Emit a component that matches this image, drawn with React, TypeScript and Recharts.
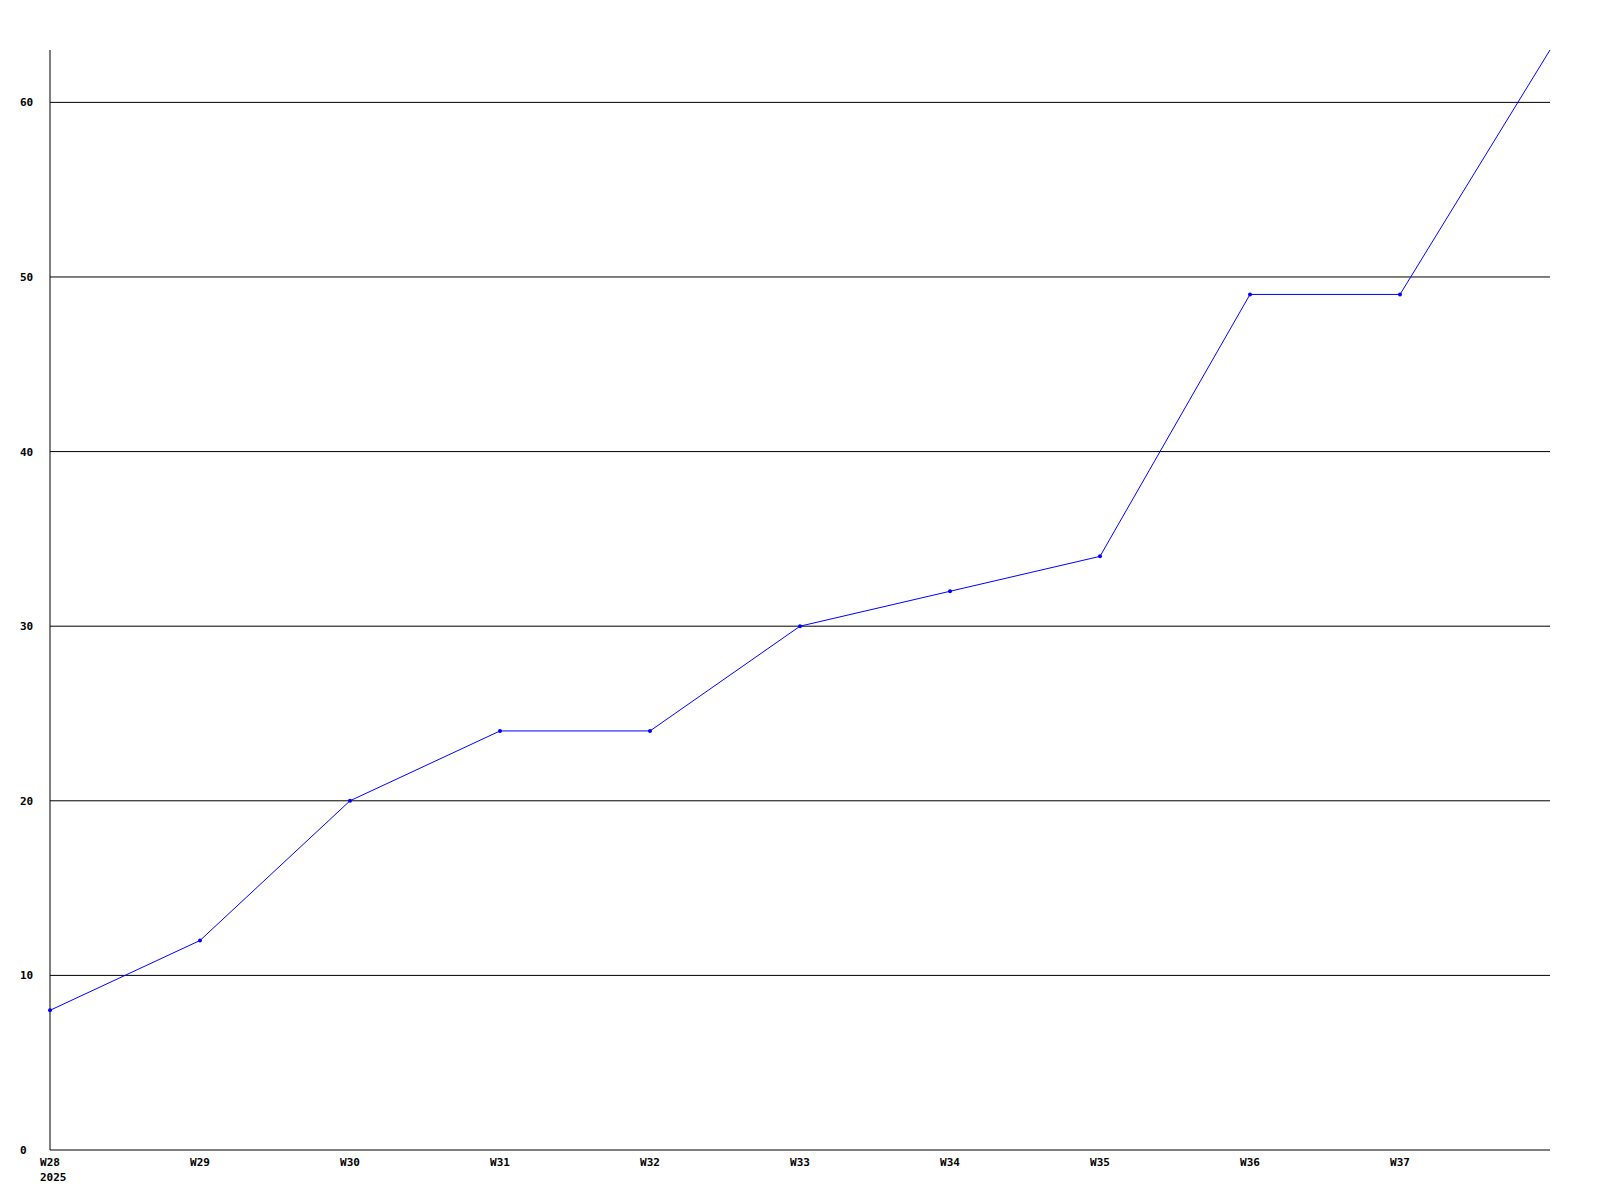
import { LineChart, Line, XAxis, YAxis, ReferenceLine } from 'recharts'

const weeks = ['W28', 'W29', 'W30', 'W31', 'W32', 'W33', 'W34', 'W35', 'W36', 'W37', 'W38']
const counts = [8, 12, 20, 24, 24, 30, 32, 34, 49, 49, 63]
const labelledWeeks = ['W28', 'W29', 'W30', 'W31', 'W32', 'W33', 'W34', 'W35', 'W36', 'W37']
const yTicks = [0, 10, 20, 30, 40, 50, 60]
const yearLabel = '2025'

const LINE_BLUE = '#0000ff'
const INK = '#000000'
const FONT = '"DejaVu Sans Mono", monospace'

const data = weeks.map((week, i) => ({ week, count: counts[i] }))

function WeekTick({ x, y, payload, index }: any) {
  return (
    <g>
      <text x={x} y={y + 8} textAnchor="middle" fontFamily={FONT} fontSize={11} fontWeight="bold" fill={INK}>
        {payload.value}
      </text>
      {index === 0 && (
        <text x={x - 10} y={y + 23} textAnchor="start" fontFamily={FONT} fontSize={11} fontWeight="bold" fill={INK}>
          {yearLabel}
        </text>
      )}
    </g>
  )
}

function CountTick({ y, payload }: any) {
  return (
    <text x={20} y={y + 4} textAnchor="start" fontFamily={FONT} fontSize={11} fontWeight="bold" fill={INK}>
      {payload.value}
    </text>
  )
}

function SmallDot({ cx, cy, index }: any) {
  if (index === counts.length - 1) return <g key={index} />
  return <circle key={index} cx={cx} cy={cy} r={2} fill={LINE_BLUE} />
}

export default function App() {
  return (
    <div style={{ position: 'absolute', left: 0, top: 0, width: 1600, height: 1200, background: '#fff' }}>
      <LineChart width={1600} height={1200} data={data} margin={{ top: 50, right: 50, bottom: 0, left: 0 }}>
        {/* grid rows only at the labelled values, nothing along the top edge */}
        {yTicks.filter(t => t > 0).map(t => (
          <ReferenceLine key={t} y={t} stroke={INK} strokeWidth={1} />
        ))}
        <XAxis
          dataKey="week"
          ticks={labelledWeeks}
          interval={0}
          height={50}
          axisLine={{ stroke: INK }}
          tickLine={false}
          tick={<WeekTick />}
        />
        <YAxis
          type="number"
          domain={[0, 63]}
          ticks={yTicks}
          width={50}
          axisLine={{ stroke: INK }}
          tickLine={false}
          tick={<CountTick />}
        />
        <Line
          type="linear"
          dataKey="count"
          stroke={LINE_BLUE}
          strokeWidth={1}
          dot={<SmallDot />}
          activeDot={false}
          isAnimationActive={false}
        />
      </LineChart>
    </div>
  )
}
